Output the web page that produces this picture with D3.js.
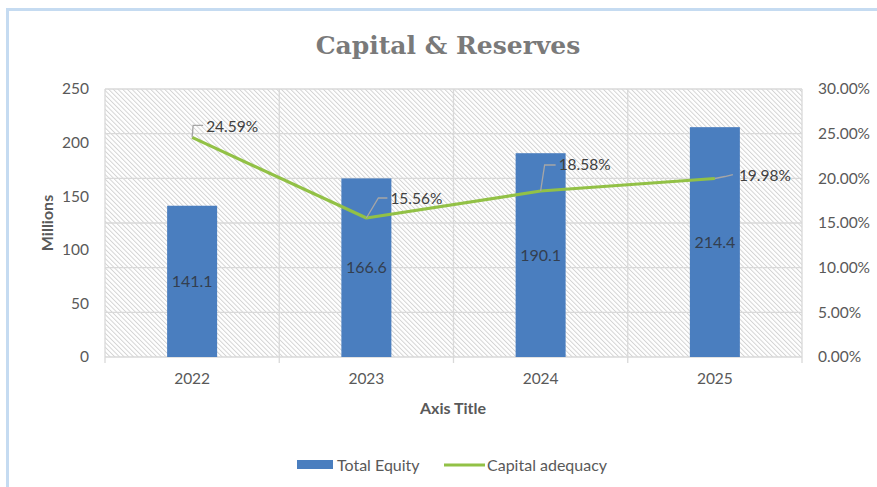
<!DOCTYPE html>
<html>
<head>
<meta charset="utf-8">
<script src="https://cdn.jsdelivr.net/npm/d3@7"></script>
<style>
  html, body { margin: 0; padding: 0; background: #ffffff; }
  svg { display: block; }
  text { font-family: Lato, "Open Sans", "Liberation Sans", sans-serif; }
</style>
</head>
<body>
<svg id="chart" width="877" height="487"></svg>
<script>
// Chart data
const years = ["2022", "2023", "2024", "2025"];
const totalEquity = [141.1, 166.6, 190.1, 214.4];          // millions
const capitalAdequacy = [0.2459, 0.1556, 0.1858, 0.1998];  // ratio
const leftTicks = [0, 50, 100, 150, 200, 250];
const rightTicks = [0, 0.05, 0.10, 0.15, 0.20, 0.25, 0.30];

const svg = d3.select("#chart");
const W = 877, H = 487;
const tickSize = "15.5px";

// Card frame
svg.append("rect").attr("x", 0).attr("y", 0).attr("width", W).attr("height", H).attr("fill", "#ffffff");
svg.append("rect")
  .attr("x", 7.5).attr("y", 9.5).attr("width", W + 20).attr("height", H + 20)
  .attr("fill", "#ffffff").attr("stroke", "#c5dbf1").attr("stroke-width", 3);

const plot = { left: 105, right: 802, top: 89, bottom: 357 };

const x = d3.scaleBand().domain(years).range([plot.left, plot.right]).paddingInner(0).paddingOuter(0);
const yL = d3.scaleLinear().domain([0, 250]).range([plot.bottom, plot.top]);
const yR = d3.scaleLinear().domain([0, 0.30]).range([plot.bottom, plot.top]);

// Hatched plot background
const defs = svg.append("defs");
const pat = defs.append("pattern")
  .attr("id", "hatch").attr("patternUnits", "userSpaceOnUse")
  .attr("width", 3.3).attr("height", 3.3)
  .attr("patternTransform", "rotate(-45)");
pat.append("line").attr("x1", 0.5).attr("y1", 0).attr("x2", 0.5).attr("y2", 3.3)
  .attr("stroke", "#cfcfcf").attr("stroke-width", 0.9);

svg.append("rect")
  .attr("x", plot.left).attr("y", plot.top)
  .attr("width", plot.right - plot.left).attr("height", plot.bottom - plot.top)
  .attr("fill", "url(#hatch)");

// Gridlines
const grid = svg.append("g").attr("stroke", "#d9d9d9").attr("stroke-width", 1.3);
grid.selectAll("line.h").data(rightTicks).join("line")
  .attr("x1", plot.left).attr("x2", plot.right)
  .attr("y1", d => yR(d)).attr("y2", d => yR(d));
const bounds = years.map(d => x(d)).concat([plot.right]);
grid.selectAll("line.v").data(bounds).join("line")
  .attr("x1", d => d).attr("x2", d => d)
  .attr("y1", plot.top).attr("y2", plot.bottom + 6);

// Title
svg.append("text")
  .attr("x", 448).attr("y", 54)
  .attr("text-anchor", "middle")
  .style("font-family", "'DejaVu Serif', 'Liberation Serif', serif")
  .style("font-weight", "bold").style("font-size", "25px")
  .attr("fill", "#7a7a7a")
  .text("Capital & Reserves");

// Left axis
const axL = svg.append("g").attr("transform", `translate(${plot.left},0)`)
  .call(d3.axisLeft(yL).tickValues(leftTicks).tickSize(0).tickPadding(16).tickFormat(d3.format("d")));
axL.select(".domain").remove();
axL.selectAll("text").attr("fill", "#595959").style("font-size", tickSize).style("font-family", "Lato, sans-serif");

// Right axis
const axR = svg.append("g").attr("transform", `translate(${plot.right},0)`)
  .call(d3.axisRight(yR).tickValues(rightTicks).tickSize(0).tickPadding(16).tickFormat(d3.format(".2%")));
axR.select(".domain").remove();
axR.selectAll("text").attr("fill", "#595959").style("font-size", tickSize).style("font-family", "Lato, sans-serif");

// Bottom axis
const axB = svg.append("g").attr("transform", `translate(0,${plot.bottom})`)
  .call(d3.axisBottom(x).tickSize(0).tickPadding(16));
axB.select(".domain").remove();
axB.selectAll("text").attr("fill", "#595959").style("font-size", tickSize).style("font-family", "Lato, sans-serif");

// Axis titles
svg.append("text").attr("x", 453).attr("y", 414).attr("text-anchor", "middle")
  .style("font-weight", "bold").style("font-size", "16px").attr("fill", "#595959")
  .text("Axis Title");
svg.append("text")
  .attr("transform", `translate(53,${(plot.top + plot.bottom) / 2}) rotate(-90)`)
  .attr("text-anchor", "middle")
  .style("font-weight", "bold").style("font-size", "16px").attr("fill", "#595959")
  .text("Millions");

// Bars
const barW = 50;
svg.append("g").selectAll("rect").data(years).join("rect")
  .attr("x", (d) => x(d) + x.bandwidth() / 2 - barW / 2)
  .attr("y", (d, i) => yL(totalEquity[i]))
  .attr("width", barW)
  .attr("height", (d, i) => yL(0) - yL(totalEquity[i]))
  .attr("fill", "#4a7ebf");

// Bar value labels (centred in bar)
svg.append("g").selectAll("text").data(years).join("text")
  .attr("x", d => x(d) + x.bandwidth() / 2)
  .attr("y", (d, i) => (yL(0) + yL(totalEquity[i])) / 2)
  .attr("dy", "0.35em")
  .attr("text-anchor", "middle")
  .style("font-size", "16px").attr("fill", "#333f50")
  .text((d, i) => totalEquity[i].toFixed(1));

// Capital adequacy line
const pts = years.map((d, i) => [x(d) + x.bandwidth() / 2, yR(capitalAdequacy[i])]);
svg.append("path")
  .attr("d", d3.line()(pts))
  .attr("fill", "none").attr("stroke", "#92c146").attr("stroke-width", 3.2)
  .attr("stroke-linejoin", "round");

// Line labels with leader lines (offsets relative to each point)
const labelOffsets = [
  { lead: [[0, 0], [1, -12], [11, -12]], tx: 14, ty: -11 },
  { lead: [[0, 0], [12, -20], [21, -20]], tx: 24, ty: -19 },
  { lead: [[0, 0], [4, -26], [15, -26]], tx: 18, ty: -26 },
  { lead: [[0, 0], [10, -2], [18, -4]], tx: 24, ty: -3 }
];
const lab = svg.append("g");
pts.forEach((p, i) => {
  const o = labelOffsets[i];
  lab.append("path")
    .attr("d", d3.line()(o.lead.map(q => [p[0] + q[0], p[1] + q[1]])))
    .attr("fill", "none").attr("stroke", "#a6a6a6").attr("stroke-width", 1.3);
  lab.append("text")
    .attr("x", p[0] + o.tx).attr("y", p[1] + o.ty).attr("dy", "0.35em")
    .style("font-size", "15.5px").attr("fill", "#404040")
    .text(d3.format(".2%")(capitalAdequacy[i]));
});

// Legend
const lg = svg.append("g");
lg.append("rect").attr("x", 297).attr("y", 460).attr("width", 36).attr("height", 9).attr("fill", "#4a7ebf");
lg.append("text").attr("x", 337).attr("y", 465).attr("dy", "0.35em")
  .style("font-size", "16px").attr("fill", "#595959").text("Total Equity");
lg.append("line").attr("x1", 444).attr("x2", 485).attr("y1", 465).attr("y2", 465)
  .attr("stroke", "#92c146").attr("stroke-width", 3);
lg.append("text").attr("x", 487).attr("y", 465).attr("dy", "0.35em")
  .style("font-size", "16px").attr("fill", "#595959").text("Capital adequacy");
</script>
</body>
</html>
